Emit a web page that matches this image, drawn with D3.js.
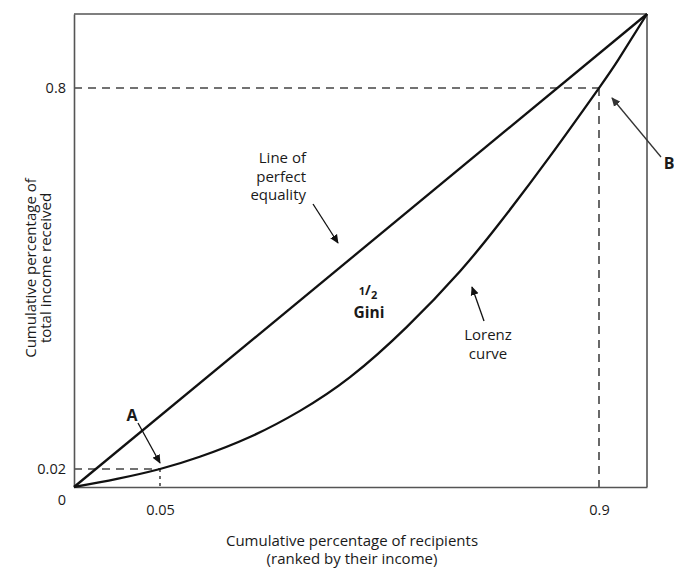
<!DOCTYPE html>
<html><head><meta charset="utf-8">
<script src="https://cdn.jsdelivr.net/npm/d3@7"></script>
<style>body{margin:0;background:#fff;} text{font-family:"Open Sans",sans-serif;fill:#1a1a1a;}</style>
</head><body>
<svg id="c" width="674" height="568"></svg>
<script>
// Data (schematic axes: break points)
const xBreaks = [0, 0.05, 0.9, 1];
const yBreaks = [0, 0.02, 0.8, 1];
const xTicks = [0.05, 0.9];
const yTicks = [0.02, 0.8];
const equalityX = [0, 1];
const equalityY = [0, 1];
const lorenzX = [0, 0.025, 0.05, 0.127, 0.224, 0.321, 0.418, 0.528, 0.631, 0.708, 0.805, 0.9, 0.94, 1];
const lorenzY = [0, 0.009, 0.02, 0.045, 0.0855, 0.139, 0.208, 0.311, 0.425, 0.524, 0.66, 0.8, 0.876, 1];
const pointA = [0.05, 0.02];
const pointB = [0.9, 0.8];

const svg = d3.select("#c");
const L = 74, R = 647, T = 14, B = 487;
const x = d3.scaleLinear().domain(xBreaks).range([L, 160, 599, R]);
const y = d3.scaleLinear().domain(yBreaks).range([B, 469, 88, T]);

const defs = svg.append("defs");
function marker(id, color){
  defs.append("marker").attr("id", id).attr("viewBox","0 0 10 10").attr("refX",9).attr("refY",5)
    .attr("markerWidth",9).attr("markerHeight",9).attr("markerUnits","userSpaceOnUse").attr("orient","auto")
    .append("path").attr("d","M0,0.5 L10,5 L0,9.5 Z").attr("fill",color);
}
marker("ah","#111"); marker("ahg","#333");

// dashed guides
const dash = "8,6";
const g = svg.append("g").attr("stroke","#444").attr("stroke-width",1.6).attr("stroke-dasharray",dash).attr("fill","none");
g.append("line").attr("x1",x(0)).attr("x2",x(pointB[0])).attr("y1",y(pointB[1])).attr("y2",y(pointB[1]));
g.append("line").attr("x1",x(pointB[0])).attr("x2",x(pointB[0])).attr("y1",y(pointB[1])).attr("y2",y(0));
g.append("line").attr("x1",x(0)).attr("x2",x(pointA[0])).attr("y1",y(pointA[1])).attr("y2",y(pointA[1]));
g.append("line").attr("x1",x(pointA[0])).attr("x2",x(pointA[0])).attr("y1",y(pointA[1])).attr("y2",y(0)).attr("stroke-dasharray","3,4");

// axes
const xAxis = d3.axisBottom(x).tickValues(xTicks).tickSize(0).tickPadding(18).tickFormat(d=>String(d));
const yAxis = d3.axisLeft(y).tickValues(yTicks).tickSize(0).tickPadding(8).tickFormat(d=>String(d));
const gx = svg.append("g").attr("transform",`translate(0,${B})`).call(xAxis);
const gy = svg.append("g").attr("transform",`translate(${L},0)`).call(yAxis);
[gx, gy].forEach(a=>{
  a.select(".domain").attr("stroke","#555").attr("stroke-width",1.6);
  a.selectAll("text").style("font-family","'Open Sans',sans-serif").style("font-size","14.5px").attr("fill","#1a1a1a");
});
// top & right frame
svg.append("line").attr("x1",L).attr("x2",R).attr("y1",T).attr("y2",T).attr("stroke","#555").attr("stroke-width",1.6);
svg.append("line").attr("x1",R).attr("x2",R).attr("y1",T).attr("y2",B).attr("stroke","#555").attr("stroke-width",1.6);
svg.append("text").attr("x",x(0)-12).attr("y",y(0)+18).attr("text-anchor","middle").style("font-size","14.5px").text("0");

// curves
const line = d3.line().x(d=>x(d[0])).y(d=>y(d[1]));
svg.append("path").datum(equalityX.map((v,i)=>[v,equalityY[i]])).attr("d",line)
  .attr("fill","none").attr("stroke","#111").attr("stroke-width",2.3);
svg.append("path").datum(lorenzX.map((v,i)=>[v,lorenzY[i]])).attr("d",line.curve(d3.curveNatural))
  .attr("fill","none").attr("stroke","#111").attr("stroke-width",2.3);

// annotations
function arrow(x1,y1,x2,y2,m,c,w){
  svg.append("line").attr("x1",x1).attr("y1",y1).attr("x2",x2).attr("y2",y2)
    .attr("stroke",c).attr("stroke-width",w).attr("marker-end",`url(#${m})`);
}
const ann = svg.append("g").style("font-size","15px");
ann.append("text").attr("text-anchor","end").attr("x",306).attr("y",163).text("Line of");
ann.append("text").attr("text-anchor","end").attr("x",306).attr("y",181.5).text("perfect");
ann.append("text").attr("text-anchor","end").attr("x",306).attr("y",200).text("equality");
arrow(313,204,338,243,"ah","#111",1.3);

const half = svg.append("text").attr("x",368).attr("y",298).attr("text-anchor","middle").style("font-weight","bold").style("font-size","14px");
half.append("tspan").attr("dy",-3).style("font-size","11px").text("1");
half.append("tspan").attr("dy",0).text("/");
half.append("tspan").attr("dy",4).style("font-size","11px").text("2");
svg.append("text").attr("x",369).attr("y",318).attr("text-anchor","middle").style("font-weight","bold").style("font-size","15.5px").text("Gini");

ann.append("text").attr("text-anchor","middle").attr("x",488).attr("y",340).text("Lorenz");
ann.append("text").attr("text-anchor","middle").attr("x",488).attr("y",359).text("curve");
arrow(484,321,472,287,"ah","#111",1.3);

svg.append("text").attr("x",132).attr("y",421).attr("text-anchor","middle").style("font-weight","bold").style("font-size","16px").text("A");
arrow(138,423,160,463,"ah","#111",1.3);
svg.append("text").attr("x",669).attr("y",169).attr("text-anchor","middle").style("font-weight","bold").style("font-size","16px").text("B");
arrow(661,157,612,98,"ahg","#333",1.3);

// axis titles
const xt = svg.append("g").style("font-size","15px");
xt.append("text").attr("x",352).attr("y",545.5).attr("text-anchor","middle").text("Cumulative percentage of recipients");
xt.append("text").attr("x",352).attr("y",564).attr("text-anchor","middle").text("(ranked by their income)");
const yt = svg.append("g").style("font-size","15px").attr("transform","translate(0,268) rotate(-90)");
yt.append("text").attr("x",0).attr("y",36).attr("text-anchor","middle").text("Cumulative percentage of");
yt.append("text").attr("x",0).attr("y",51).attr("text-anchor","middle").text("total income received");
</script>
</body></html>
